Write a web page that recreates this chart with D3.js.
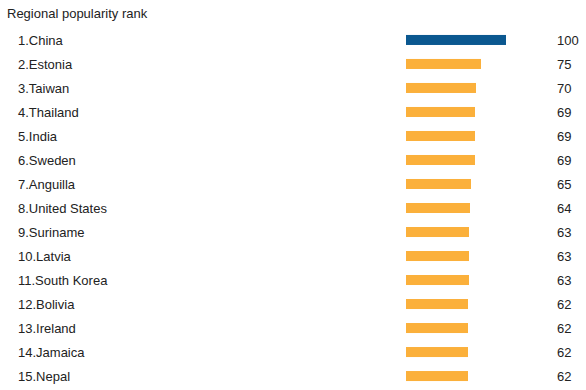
<!DOCTYPE html>
<html><head><meta charset="utf-8">
<script src="https://cdn.jsdelivr.net/npm/d3@7/dist/d3.min.js"></script>
<style>body{margin:0;background:#fff;}svg{display:block;font-family:Arial,"Liberation Sans",sans-serif;}</style>
</head><body>
<script>
const title = "Regional popularity rank";
const regions = ["China","Estonia","Taiwan","Thailand","India","Sweden","Anguilla","United States","Suriname","Latvia","South Korea","Bolivia","Ireland","Jamaica","Nepal"];
const values = [100,75,70,69,69,69,65,64,63,63,63,62,62,62,62];
const colors = {top:"#0b5890", rest:"#fbb03b"};

const W = 586, H = 390;
const svg = d3.select("body").append("svg").attr("width", W).attr("height", H);

svg.append("text").attr("x", 7).attr("y", 18).attr("font-size", 13).attr("fill", "#222").text(title);

const y = d3.scaleBand().domain(d3.range(regions.length)).range([28, 388]).paddingInner(0.583).paddingOuter(0.29);
const x = d3.scaleLinear().domain([0, 100]).range([406, 506]);

const rows = svg.append("g").selectAll("g").data(regions).join("g");
rows.append("text").attr("x", 18).attr("y", (d,i) => y(i) + y.bandwidth()/2).attr("dy", "0.36em")
  .attr("font-size", 13).attr("fill", "#222").text((d,i) => (i+1) + "." + d);
rows.append("rect").attr("x", x(0)).attr("y", (d,i) => y(i)).attr("height", y.bandwidth())
  .attr("width", (d,i) => x(values[i]) - x(0)).attr("fill", (d,i) => i === 0 ? colors.top : colors.rest);
rows.append("text").attr("x", 557).attr("y", (d,i) => y(i) + y.bandwidth()/2).attr("dy", "0.36em")
  .attr("font-size", 13).attr("fill", "#222").text((d,i) => values[i]);
</script>
</body></html>
